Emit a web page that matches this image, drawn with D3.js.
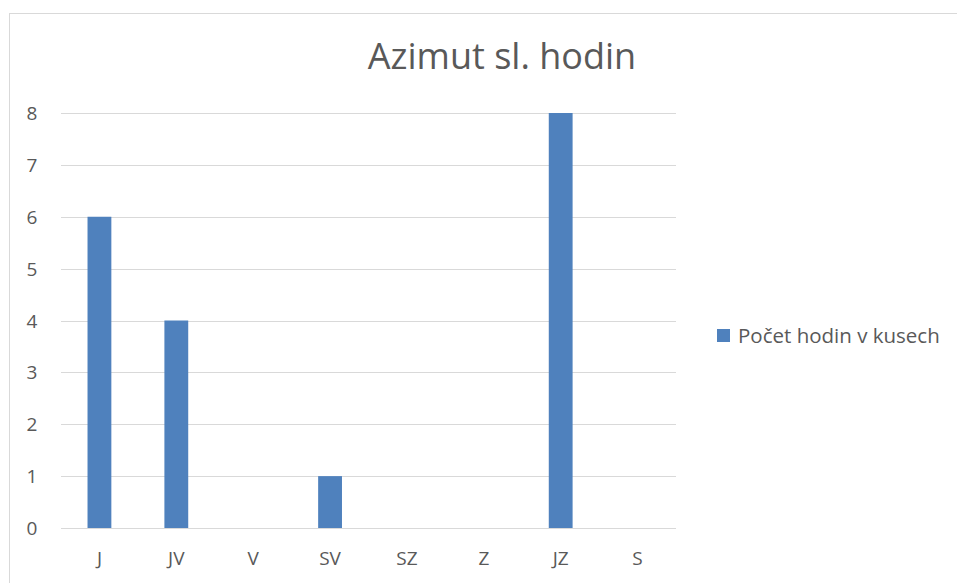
<!DOCTYPE html>
<html>
<head>
<meta charset="utf-8">
<script src="https://cdn.jsdelivr.net/npm/d3@7"></script>
<style>
  body { margin: 0; background: #fff; }
  text { font-family: "Open Sans", sans-serif; fill: #595959; }
</style>
</head>
<body>
<div id="chart"></div>
<script>
// data
var categories = ["J", "JV", "V", "SV", "SZ", "Z", "JZ", "S"];
var values = [6, 4, 0, 1, 0, 0, 8, 0];
var yTicks = [0, 1, 2, 3, 4, 5, 6, 7, 8];
var seriesName = "Počet hodin v kusech";
var title = "Azimut sl. hodin";

var width = 957, height = 583;
var plot = { left: 61, right: 676, top: 113, bottom: 528 };

var svg = d3.select("#chart").append("svg")
    .attr("width", width)
    .attr("height", height);

// chart border
svg.append("rect")
    .attr("x", 9.5).attr("y", 13.5)
    .attr("width", 960).attr("height", 600)
    .attr("fill", "#fff")
    .attr("stroke", "#d9d9d9");

var x = d3.scaleBand()
    .domain(categories)
    .range([plot.left, plot.right])
    .paddingInner(0.69)
    .paddingOuter(0.345);

var y = d3.scaleLinear()
    .domain([0, 8])
    .range([plot.bottom, plot.top]);

// gridlines
svg.append("g").selectAll("line")
    .data(yTicks)
    .enter().append("line")
    .attr("x1", plot.left).attr("x2", plot.right)
    .attr("y1", function (d) { return Math.round(y(d)) + 0.5; })
    .attr("y2", function (d) { return Math.round(y(d)) + 0.5; })
    .attr("stroke", "#d9d9d9")
    .attr("stroke-width", 1);

// y labels
svg.append("g").selectAll("text")
    .data(yTicks)
    .enter().append("text")
    .attr("x", 32)
    .attr("y", function (d) { return y(d) + 7; })
    .attr("text-anchor", "middle")
    .style("font-size", "19px")
    .text(function (d) { return d; });

// bars
svg.append("g").selectAll("rect")
    .data(values)
    .enter().append("rect")
    .attr("x", function (d, i) { return x(categories[i]); })
    .attr("y", function (d) { return y(d); })
    .attr("width", x.bandwidth())
    .attr("height", function (d) { return y(0) - y(d); })
    .attr("fill", "#4f81bd");

// category labels
svg.append("g").selectAll("text")
    .data(categories)
    .enter().append("text")
    .attr("x", function (d) { return x(d) + x.bandwidth() / 2; })
    .attr("y", 565)
    .attr("text-anchor", "middle")
    .style("font-size", "19px")
    .text(function (d) { return d; });

// title
svg.append("text")
    .attr("x", 502)
    .attr("y", 69)
    .attr("text-anchor", "middle")
    .style("font-size", "36px")
    .text(title);

// legend
svg.append("rect")
    .attr("x", 717).attr("y", 329)
    .attr("width", 13).attr("height", 13)
    .attr("fill", "#4f81bd");
svg.append("text")
    .attr("x", 738)
    .attr("y", 343)
    .style("font-size", "20.5px")
    .text(seriesName);
</script>
</body>
</html>
